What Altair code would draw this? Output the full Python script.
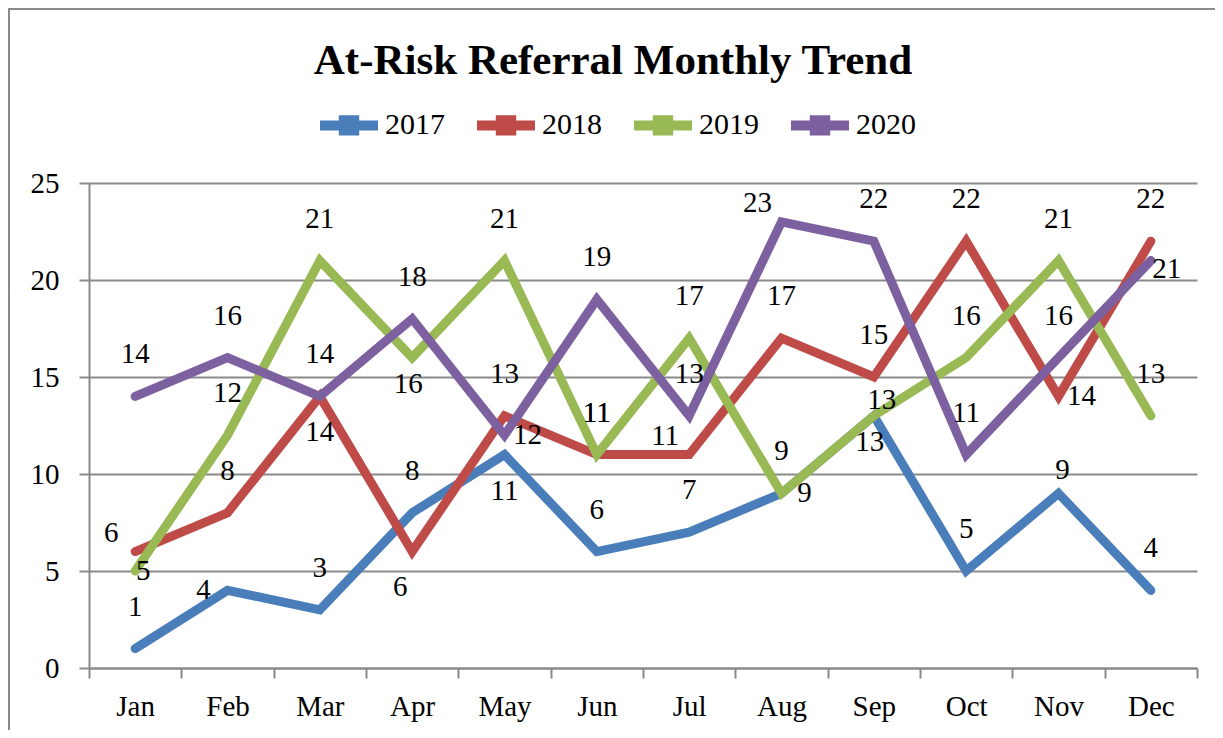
import altair as alt
import pandas as pd

# ---------------- data ----------------
MONTHS = ["Jan", "Feb", "Mar", "Apr", "May", "Jun", "Jul", "Aug", "Sep", "Oct", "Nov", "Dec"]
YEARS = ["2017", "2018", "2019", "2020"]
V2017 = [1, 4, 3, 8, 11, 6, 7, 9, 13, 5, 9, 4]
V2018 = [6, 8, 14, 6, 13, 11, 11, 17, 15, 22, 14, 22]
V2019 = [5, 12, 21, 16, 21, 11, 17, 9, 13, 16, 21, 13]
V2020 = [14, 16, 14, 18, 12, 19, 13, 23, 22, 11, 16, 21]
Y_TICKS = [0, 5, 10, 15, 20, 25]

# ---------------- styling (kept apart from data) ----------------
COLORS = ["#4A7EBB", "#BE4B48", "#98B954", "#7D60A0"]
# data-label placement code for each point
PLACE = {
    "2017": ["t", "l", "t", "t", "b", "t", "t", "r", "bs", "t", "ts", "t"],
    "2018": ["tl", "t", "b", "bl", "t", "t", "tl", "t", "t", "t", "r", "t"],
    "2019": ["c", "t", "t", "bs", "t", "t", "t", "t", "tr", "t", "t", "t"],
    "2020": ["t", "t", "t", "t", "r", "t", "t", "tl", "t", "t", "t", "br"],
}
OFFS = {"t": (0, -42), "ts": (4, -23), "b": (0, 36), "bs": (-4, 26), "bl": (-12, 35),
        "l": (-24, 0), "r": (23, 0), "tl": (-24, -19), "tr": (8, -16), "br": (16, 8), "c": (8, 0)}

FONT = "Liberation Serif"
GRAY = "#8A8A8A"
W, H = 1108, 485

rows = []
for year, vals in zip(YEARS, [V2017, V2018, V2019, V2020]):
    for i, (m, v) in enumerate(zip(MONTHS, vals)):
        rows.append({"month": m, "idx": i, "year": year, "value": v, "place": PLACE[year][i]})
df = pd.DataFrame(rows)

label_expr = "[" + ",".join("'" + m + "'" for m in MONTHS) + ",''][datum.value]"

x_enc = alt.X(
    "xpos:Q",
    scale=alt.Scale(domain=[0, 12], nice=False, zero=False),
    axis=alt.Axis(
        values=list(range(13)), labelExpr=label_expr, labelOffset=W / 24,
        labelFlush=False, labelOverlap=False, tickSize=10, grid=False,
        labelPadding=14, title=None,
    ),
)
y_enc = alt.Y(
    "value:Q",
    scale=alt.Scale(domain=[0, 25], nice=False),
    axis=alt.Axis(values=Y_TICKS, tickSize=10, grid=True, labelPadding=20, title=None),
)

base = alt.Chart(df).transform_calculate(xpos="datum.idx + 0.5")

legend_path = "M-1,0H1M-0.18,-0.18H0.18V0.18H-0.18Z"

lines = base.mark_line(strokeWidth=9, strokeCap="round").encode(
    x=x_enc,
    y=y_enc,
    color=alt.Color(
        "year:N",
        scale=alt.Scale(domain=YEARS, range=COLORS),
        legend=alt.Legend(
            orient="none", legendX=226, legendY=-92, direction="horizontal",
            title=None, symbolType=legend_path, symbolSize=3364,
            symbolStrokeWidth=10, labelFont=FONT, labelFontSize=30,
            labelOffset=2, columnPadding=12, labelColor="black",
        ),
    ),
)

texts = []
for code, (dx, dy) in OFFS.items():
    texts.append(
        base.transform_filter(alt.datum.place == code)
        .mark_text(dx=dx, dy=dy, font=FONT, fontSize=29, color="black", baseline="middle", align="center")
        .encode(x=x_enc, y=y_enc, text="value:Q")
    )

frame = alt.Chart(pd.DataFrame({"a": [0]})).mark_rect(
    fill="transparent", stroke=GRAY, strokeWidth=2
).encode(x=alt.value(-80), y=alt.value(-174), x2=alt.value(W + 300), y2=alt.value(H + 300))

chart = (
    alt.layer(frame, lines, *texts)
    .properties(
        width=W,
        height=H,
        padding={"left": 81, "top": 175, "right": 18, "bottom": 62},
        autosize=alt.AutoSizeParams(type="none"),
        title=alt.TitleParams(
            "At-Risk Referral Monthly Trend", font=FONT, fontSize=43, fontWeight="bold",
            color="black", anchor="middle", frame="group", dx=-30, offset=-75,
        ),
    )
    .configure_view(stroke=None)
    .configure_axis(
        labelFont=FONT, labelFontSize=29, labelColor="black",
        domainColor=GRAY, domainWidth=2, tickColor=GRAY, tickWidth=2,
        gridColor=GRAY, gridWidth=2,
    )
)

chart.save("out.html", embed_options={"renderer": "svg", "actions": False})
